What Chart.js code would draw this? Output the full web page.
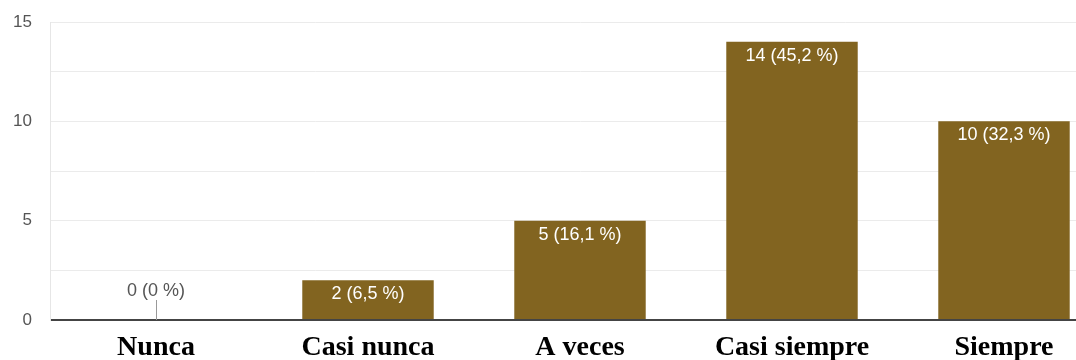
<!DOCTYPE html>
<html>
<head>
<meta charset="utf-8">
<script src="https://cdn.jsdelivr.net/npm/chart.js@4/dist/chart.umd.min.js"></script>
<style>
html,body{margin:0;padding:0;background:#fff;overflow:hidden;}
#wrap{position:relative;width:1116px;height:360px;}
</style>
</head>
<body>
<div id="wrap"><canvas id="c" width="1116" height="360"></canvas></div>
<script>
const categories = ['Nunca', 'Casi nunca', 'A veces', 'Casi siempre', 'Siempre'];
const counts = [0, 2, 5, 14, 10];
const percentLabels = ['0 %', '6,5 %', '16,1 %', '45,2 %', '32,3 %'];
const yTickLabels = [0, 5, 10, 15];

const barLabelPlugin = {
  id: 'barLabels',
  afterDatasetsDraw(chart) {
    const ctx = chart.ctx;
    const meta = chart.getDatasetMeta(0);
    ctx.save();
    ctx.textAlign = 'center';
    ctx.textBaseline = 'middle';
    ctx.font = '18px "Liberation Sans", Arial, sans-serif';
    meta.data.forEach((bar, i) => {
      const txt = counts[i] + ' (' + percentLabels[i] + ')';
      if (counts[i] > 0) {
        ctx.fillStyle = '#ffffff';
        ctx.fillText(txt, bar.x, bar.y + 14);
      } else {
        ctx.strokeStyle = '#999999';
        ctx.lineWidth = 1;
        ctx.beginPath();
        ctx.moveTo(Math.round(bar.x) + 0.5, bar.y);
        ctx.lineTo(Math.round(bar.x) + 0.5, bar.y - 20);
        ctx.stroke();
        ctx.fillStyle = '#555555';
        ctx.fillText(txt, bar.x, bar.y - 29);
      }
    });
    ctx.restore();
  }
};

new Chart(document.getElementById('c'), {
  type: 'bar',
  data: {
    labels: categories,
    datasets: [{
      data: counts,
      backgroundColor: '#826420',
      borderWidth: 0,
      categoryPercentage: 1.0,
      barPercentage: 0.62
    }]
  },
  options: {
    responsive: false,
    animation: false,
    layout: { padding: { top: 22, right: 6, left: 0, bottom: 0 } },
    plugins: { legend: { display: false }, tooltip: { enabled: false } },
    scales: {
      x: {
        grid: { display: false },
        border: { display: false },
        ticks: {
          color: '#000000',
          padding: 3,
          font: { family: '"Liberation Serif", "Times New Roman", serif', size: 28, weight: 'bold' }
        },
        afterFit(scale) { scale.height = 40; scale.paddingLeft = 0; scale.paddingRight = 0; }
      },
      y: {
        min: 0,
        max: 15,
        ticks: {
          stepSize: 2.5,
          autoSkip: false,
          color: '#555555',
          padding: 18,
          font: { family: '"Liberation Sans", Arial, sans-serif', size: 17 },
          callback(v) { return yTickLabels.includes(v) ? String(v) : ''; }
        },
        grid: {
          drawTicks: false,
          color(ctx) { return ctx.tick && ctx.tick.value === 0 ? '#444444' : '#ebebeb'; },
          lineWidth(ctx) { return ctx.tick && ctx.tick.value === 0 ? 2 : 1; }
        },
        border: { display: true, color: '#e6e6e6' },
        afterFit(scale) { scale.width = 50; scale.paddingTop = 0; scale.paddingBottom = 0; }
      }
    }
  },
  plugins: [barLabelPlugin]
});
</script>
</body>
</html>
